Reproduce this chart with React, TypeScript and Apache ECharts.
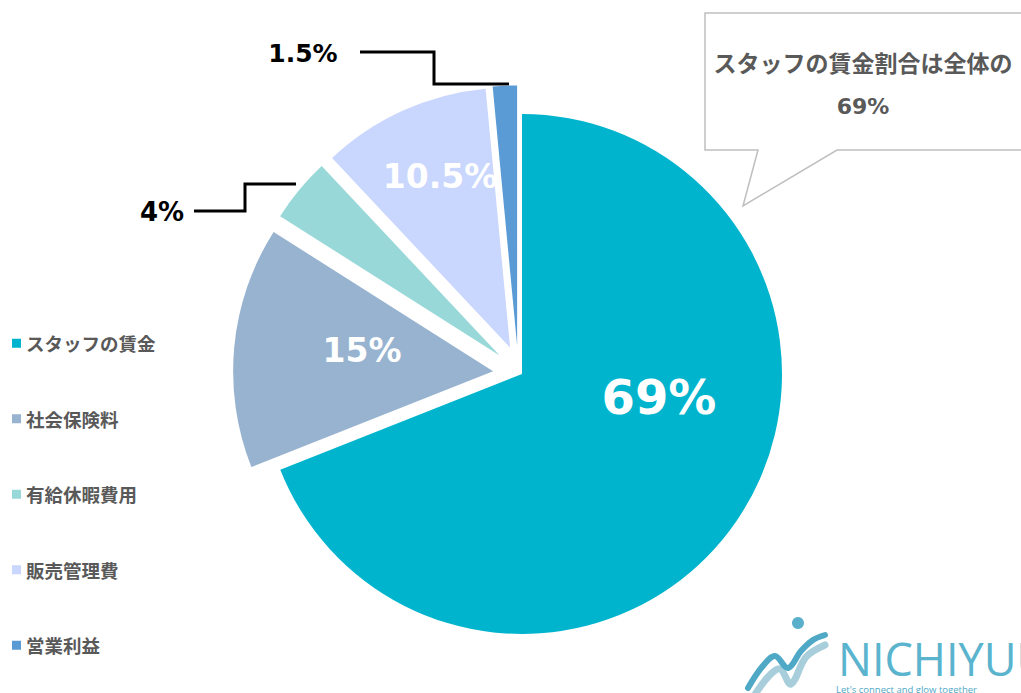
import React, { useEffect, useRef } from "react";
import * as echarts from "echarts";

// ---- data ----
const categories = ["スタッフの賃金", "社会保険料", "有給休暇費用", "販売管理費", "営業利益"];
const shares = [69, 15, 4, 10.5, 1.5];
const valueLabels = ["69%", "15%", "4%", "10.5%", "1.5%"];
const calloutLines = ["スタッフの賃金割合は全体の", "69%"];
const logoName = "NICHIYUU";
const logoTagline = "Let's connect and glow together";

// ---- styling / layout ----
const colors = ["#00B4CD", "#97B3CF", "#98D8D8", "#C9D6FD", "#5B9BD5"];
const explode = [0, 29, 29, 29, 29];
const explodeAngleAdjustDeg = [0, 0, 0, 0, -7];
const outside = [false, false, true, false, true];
const labelSizes = [48, 33, 26, 33, 25];
const labelCenters: number[][] = [[659, 397], [362, 350], [162, 212], [440, 176], [303, 53]];
const leaderPaths: Record<number, number[][]> = {
  2: [[194, 211], [245, 211], [245, 184], [296, 184]],
  4: [[360, 52], [434, 52], [434, 84], [509, 84]],
};
const PIE_CX = 522;
const PIE_CY = 374;
const PIE_R = 260;

const NUM_FONT = "'DejaVu Sans', Verdana, 'Noto Sans CJK JP', sans-serif";
const JP_FONT = "'Noto Sans CJK JP', sans-serif";

export default function App() {
  const ref = useRef<HTMLDivElement>(null);
  useEffect(() => {
    if (!ref.current) return;
    const chart = echarts.init(ref.current, undefined, { renderer: "svg" });
    const total = shares.reduce((a, b) => a + b, 0);
    let cum = 0;
    const mids = shares.map((v, i) => {
      const m = ((cum + v / 2) / total) * Math.PI * 2 + (explodeAngleAdjustDeg[i] * Math.PI) / 180;
      cum += v;
      return m;
    });

    const series = categories.map((_, owner) => {
      const dx = Math.sin(mids[owner]) * explode[owner];
      const dy = -Math.cos(mids[owner]) * explode[owner];
      return {
        type: "pie",
        name: categories[owner],
        center: [PIE_CX + dx, PIE_CY + dy],
        radius: PIE_R,
        startAngle: 90,
        clockwise: true,
        avoidLabelOverlap: false,
        silent: true,
        emphasis: { disabled: true },
        data: categories.map((name, i) => {
          const mine = i === owner;
          return {
            name,
            value: shares[i],
            itemStyle: { color: colors[i], opacity: mine ? 1 : 0 },
            label: {
              show: mine,
              position: outside[i] ? "outside" : "inside",
              formatter: valueLabels[i],
              color: outside[i] ? "#000000" : "#FFFFFF",
              fontSize: labelSizes[i],
              fontWeight: "bold",
              fontFamily: NUM_FONT,
            },
            labelLine: {
              show: mine && outside[i],
              lineStyle: { color: "#000000", width: 3, opacity: 1 },
            },
          };
        }),
        labelLayout: (params: any) => {
          const i = params.dataIndex;
          const [x, y] = labelCenters[i];
          const res: any = { x, y, align: "center", verticalAlign: "middle" };
          if (leaderPaths[i]) res.labelLinePoints = leaderPaths[i];
          return res;
        },
      };
    });

    chart.setOption({
      animation: false,
      backgroundColor: "#FFFFFF",
      legend: {
        orient: "vertical",
        left: 12,
        top: 334,
        padding: 0,
        itemWidth: 9,
        itemHeight: 9,
        itemGap: 57,
        icon: "rect",
        selectedMode: false,
        data: categories.map((name, i) => ({ name, itemStyle: { color: colors[i], opacity: 1 } })),
        textStyle: { fontSize: 18.5, fontWeight: "bold", color: "#595959", fontFamily: JP_FONT },
      },
      series,
      graphic: [
        {
          type: "polygon",
          z: 10,
          shape: {
            points: [[705, 13], [1030, 13], [1030, 150], [837, 150], [743, 206], [758, 150], [705, 150]],
          },
          style: { fill: "#FFFFFF", stroke: "#BFBFBF", lineWidth: 1.5 },
        },
        {
          type: "text",
          z: 11,
          x: 863,
          y: 62,
          style: {
            text: calloutLines[0],
            fill: "#595959",
            font: `bold 23px ${JP_FONT}`,
            align: "center",
            verticalAlign: "middle",
          },
        },
        {
          type: "text",
          z: 11,
          x: 863,
          y: 106,
          style: {
            text: calloutLines[1],
            fill: "#595959",
            font: `bold 22px ${NUM_FONT}`,
            align: "center",
            verticalAlign: "middle",
          },
        },
        // logo
        {
          type: "polyline",
          z: 5,
          shape: {
            points: [[754, 696], [768, 677], [780, 669], [791, 684], [806, 657], [825, 645]],
            smooth: 0.35,
          },
          style: { stroke: "#A8CEDB", lineWidth: 7, fill: null, lineCap: "round" },
        },
        {
          type: "polyline",
          z: 6,
          shape: {
            points: [[748, 688], [762, 667], [775, 656], [788, 668], [801, 651], [813, 640], [825, 635]],
            smooth: 0.35,
          },
          style: { stroke: "#4FA9C6", lineWidth: 6, fill: null, lineCap: "round" },
        },
        {
          type: "circle",
          z: 6,
          shape: { cx: 798, cy: 623, r: 6 },
          style: { fill: "#5AAFCB" },
        },
        {
          type: "text",
          z: 6,
          x: 838,
          y: 658,
          style: {
            text: logoName,
            fill: "#5AB4CE",
            font: "normal 45px 'Open Sans', sans-serif",
            align: "left",
            verticalAlign: "middle",
          },
        },
        {
          type: "text",
          z: 6,
          x: 836,
          y: 684,
          style: {
            text: logoTagline,
            fill: "#4FA9C6",
            font: "normal 9.5px 'Open Sans', sans-serif",
            align: "left",
            verticalAlign: "top",
          },
        },
      ],
    });
    return () => chart.dispose();
  }, []);
  return (
    <div
      ref={ref}
      style={{ position: "absolute", left: 0, top: 0, width: 1021, height: 693 }}
    />
  );
}
